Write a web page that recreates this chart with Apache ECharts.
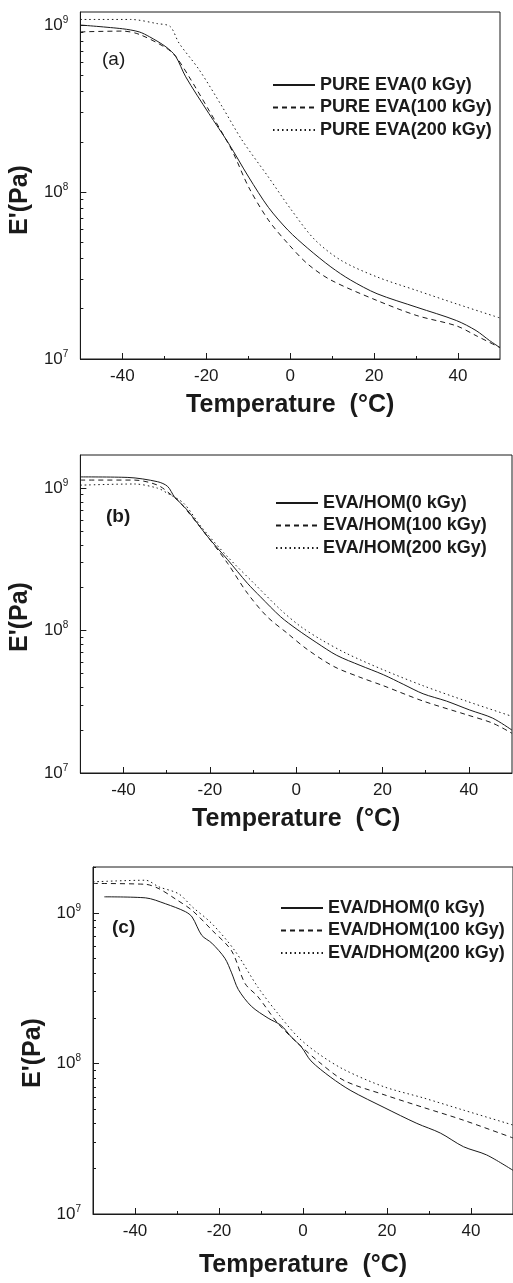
<!DOCTYPE html>
<html>
<head>
<meta charset="utf-8">
<script src="https://cdn.jsdelivr.net/npm/echarts@6/dist/echarts.min.js"></script>
<style>
  html, body { margin: 0; padding: 0; background: #fff; }
  #chart { width: 513px; height: 1283px; }
</style>
</head>
<body>
<div id="chart"></div>
<script>
// storage modulus E' (Pa) vs temperature (°C)

// (a) pure EVA
var tA0 = [-50, -40, -36, -33.5, -29.6, -27.3, -24.9, -19.4, -14.7, -9.9, -5.2, -0.5, 4.2, 9.7, 14.4, 20.7, 30.2, 39.6, 44.3, 47.5, 50];
var eA0 = [1.0e9, 0.95e9, 0.91e9, 0.85e9, 0.74e9, 0.65e9, 0.49e9, 2.96e8, 1.96e8, 1.23e8, 8.1e7, 5.9e7, 4.6e7, 3.56e7, 2.97e7, 2.46e7, 2.04e7, 1.70e7, 1.48e7, 1.29e7, 1.17e7];
var tA100 = [-50, -40, -36, -29.6, -27.3, -24.1, -19.4, -13.9, -9.9, -5.2, -0.5, 4.2, 9.7, 20.7, 30.2, 39.6, 44.3, 50];
var eA100 = [0.91e9, 0.92e9, 0.88e9, 0.73e9, 0.65e9, 0.49e9, 3.1e8, 1.78e8, 1.07e8, 6.8e7, 4.9e7, 3.7e7, 2.97e7, 2.24e7, 1.82e7, 1.58e7, 1.38e7, 1.17e7];
var tA200 = [-50, -38, -31.7, -28.6, -26.5, -21.7, -16.2, -11.5, -5.2, 0.3, 5.8, 12.1, 20.7, 30.2, 39.6, 50];
var eA200 = [1.08e9, 1.08e9, 1.02e9, 0.98e9, 0.78e9, 0.54e9, 3.24e8, 2.05e8, 1.23e8, 7.8e7, 5.2e7, 3.9e7, 3.1e7, 2.57e7, 2.14e7, 1.76e7];

// (b) EVA/HOM
var tB0 = [-50, -39, -32.1, -29.8, -28.2, -25.2, -20.6, -15.9, -11.3, -8.3, -3.6, 0.2, 4.8, 9.4, 14.8, 20.2, 24.8, 29.4, 34.8, 40.2, 45.5, 50];
var eB0 = [1.2e9, 1.19e9, 1.11e9, 1.03e9, 0.87e9, 0.70e9, 0.46e9, 3.15e8, 2.15e8, 1.73e8, 1.25e8, 1.02e8, 8.2e7, 6.7e7, 5.7e7, 4.9e7, 4.2e7, 3.6e7, 3.2e7, 2.77e7, 2.43e7, 2.0e7];
var tB100 = [-50, -37.5, -32.1, -29, -26.7, -20.6, -15.9, -11.3, -6.7, -2.1, 2.5, 8.7, 14.8, 20.2, 29.4, 39.4, 45.5, 50];
var eB100 = [1.14e9, 1.14e9, 1.05e9, 0.90e9, 0.78e9, 0.46e9, 2.97e8, 1.83e8, 1.25e8, 9.6e7, 7.4e7, 5.6e7, 4.7e7, 4.1e7, 3.2e7, 2.57e7, 2.24e7, 1.9e7];
var tB200 = [-50, -37.5, -32.1, -29.8, -26, -22.1, -15.9, -9.8, -3.6, 1.0, 5.6, 11.7, 20.2, 29.4, 39.4, 50];
var eB200 = [1.05e9, 1.07e9, 1.0e9, 0.92e9, 0.78e9, 0.54e9, 3.3e8, 2.15e8, 1.4e8, 1.07e8, 8.7e7, 6.9e7, 5.3e7, 4.1e7, 3.2e7, 2.5e7];

// (c) EVA/DHOM
var tC0 = [-47.3, -37.5, -32.7, -28, -26.4, -24.1, -21.7, -18.6, -17, -15.4, -12.3, -8.3, -5.2, -2.8, -0.4, 1.9, 6.6, 11.4, 19.3, 27.1, 32.7, 38.2, 43.7, 50];
var eC0 = [1.28e9, 1.26e9, 1.15e9, 1.02e9, 0.94e9, 0.71e9, 0.63e9, 0.50e9, 0.40e9, 0.31e9, 2.4e8, 2.0e8, 1.79e8, 1.5e8, 1.29e8, 1.04e8, 8.1e7, 6.6e7, 5.1e7, 4.0e7, 3.45e7, 2.8e7, 2.47e7, 1.95e7];
var tC100 = [-50, -37.5, -34.3, -30.4, -26.4, -21.7, -17, -13.8, -10.7, -6, -1.2, 3.5, 9.8, 19.3, 28.7, 38.2, 50];
var eC100 = [1.57e9, 1.55e9, 1.45e9, 1.24e9, 1.04e9, 0.77e9, 0.56e9, 3.4e8, 2.77e8, 1.85e8, 1.36e8, 1.04e8, 7.7e7, 6.2e7, 5.1e7, 4.2e7, 3.2e7];
var tC200 = [-50, -37.5, -34.3, -29.6, -26.4, -21.7, -16.2, -10.7, -6, -1.2, 3.5, 9.8, 19.3, 28.7, 38.2, 50];
var eC200 = [1.61e9, 1.65e9, 1.49e9, 1.34e9, 1.10e9, 0.85e9, 0.56e9, 3.2e8, 2.15e8, 1.5e8, 1.17e8, 9.1e7, 7.0e7, 5.9e7, 4.9e7, 3.9e7];

var namesA = ['PURE EVA(0 kGy)', 'PURE EVA(100 kGy)', 'PURE EVA(200 kGy)'];
var namesB = ['EVA/HOM(0 kGy)', 'EVA/HOM(100 kGy)', 'EVA/HOM(200 kGy)'];
var namesC = ['EVA/DHOM(0 kGy)', 'EVA/DHOM(100 kGy)', 'EVA/DHOM(200 kGy)'];
var panelTags = ['(a)', '(b)', '(c)'];

var xMajor = [-40, -20, 0, 20, 40];
var xMinor = [-30, -10, 10, 30];
var yMajor = [1e7, 1e8, 1e9];
var yMinor = [2e7, 3e7, 4e7, 5e7, 6e7, 7e7, 8e7, 9e7, 2e8, 3e8, 4e8, 5e8, 6e8, 7e8, 8e8, 9e8, 2e9];

function zip(t, e) {
  return t.map(function (v, i) { return [v, e[i]]; });
}

var font = '"Liberation Sans", Arial, sans-serif';
var ink = '#1a1a1a';
var dashTypes = ['solid', [5, 4], [1.5, 3]];

// layout of each panel (pixels)
var panels = [
  { grid: { left: 77, right: 13, top: 12, height: 347 }, yMax: 1.197e9, legend: { left: 272, top: 76 }, tag: { left: 102, top: 50, weight: 'normal' },
    nameShift: 29, xGap: 34, names: namesA, data: [zip(tA0, eA0), zip(tA100, eA100), zip(tA200, eA200)] },
  { grid: { left: 78, right: 1, top: 455, height: 318 }, yMax: 1.71e9, legend: { left: 275, top: 494 }, tag: { left: 106, top: 507, weight: 'bold' },
    nameShift: 6, xGap: 34, names: namesB, data: [zip(tB0, eB0), zip(tB100, eB100), zip(tB200, eB200)] },
  { grid: { left: 93, right: -3, top: 867, height: 347 }, yMax: 2.02e9, legend: { left: 280, top: 899 }, tag: { left: 112, top: 918, weight: 'bold' },
    nameShift: 25, xGap: 39, names: namesC, data: [zip(tC0, eC0), zip(tC100, eC100), zip(tC200, eC200)] }
];

var option = {
  backgroundColor: '#ffffff',
  animation: false,
  textStyle: { fontFamily: font, color: ink },
  title: [],
  legend: [],
  grid: [],
  xAxis: [],
  yAxis: [],
  series: []
};

panels.forEach(function (p, i) {
  option.grid.push(Object.assign({ show: true, borderColor: ink, borderWidth: 1, backgroundColor: 'transparent' }, p.grid));

  option.title.push({
    text: panelTags[i], left: p.tag.left, top: p.tag.top, padding: 0,
    textStyle: { fontSize: 19, fontWeight: p.tag.weight, color: ink, fontFamily: font }
  });

  // legend: line only, hide the symbol dot
  option.legend.push({
    orient: 'vertical', left: p.legend.left, top: p.legend.top, padding: 0,
    itemWidth: 42, itemHeight: 12, itemGap: 4.5, selectedMode: false,
    itemStyle: { color: 'rgba(0,0,0,0)', borderWidth: 0, opacity: 0 },
    data: p.names,
    textStyle: { fontSize: 18, fontWeight: 'bold', color: ink, fontFamily: font }
  });

  // main x axis
  option.xAxis.push({
    type: 'value', gridIndex: i, position: 'bottom', min: -50, max: 50,
    axisLine: { show: true, onZero: false, lineStyle: { color: ink, width: 1 } },
    axisTick: { inside: true, length: 6, customValues: xMajor, lineStyle: { color: ink } },
    axisLabel: { customValues: xMajor, fontSize: 17, margin: 9, color: ink, fontFamily: font },
    splitLine: { show: false },
    name: 'Temperature  (°C)', nameLocation: 'middle', nameGap: p.xGap,
    nameTextStyle: { fontSize: 25, fontWeight: 'bold', color: ink, fontFamily: font }
  });
  // minor x ticks
  option.xAxis.push({
    type: 'value', gridIndex: i, position: 'bottom', min: -50, max: 50,
    axisLine: { show: false, onZero: false },
    axisTick: { inside: true, length: 3, customValues: xMinor, lineStyle: { color: ink } },
    axisLabel: { show: false },
    splitLine: { show: false }
  });

  // main y axis (log)
  option.yAxis.push({
    type: 'log', logBase: 10, gridIndex: i, position: 'left', min: 1e7, max: p.yMax,
    axisLine: { show: true, onZero: false, lineStyle: { color: ink, width: 1 } },
    axisTick: { inside: true, length: 6, customValues: yMajor, lineStyle: { color: ink } },
    axisLabel: {
      customValues: yMajor, fontSize: 17, margin: 12, color: ink, fontFamily: font,
      formatter: function (v) { return '10{s|' + Math.round(Math.log10(v)) + '}'; },
      rich: { s: { fontSize: 10, padding: [0, 0, 10, 0], color: ink, fontFamily: font } }
    },
    splitLine: { show: false },
    name: "E'(Pa)", nameLocation: 'middle', nameGap: 43,
    nameTextStyle: { fontSize: 25, fontWeight: 'bold', color: ink, fontFamily: font, padding: [0, p.nameShift, 0, 0] }
  });
  // minor y ticks
  option.yAxis.push({
    type: 'log', logBase: 10, gridIndex: i, position: 'left', min: 1e7, max: p.yMax,
    axisLine: { show: false, onZero: false },
    axisTick: { inside: true, length: 3, customValues: yMinor, lineStyle: { color: ink } },
    axisLabel: { show: false },
    splitLine: { show: false }
  });

  p.data.forEach(function (d, k) {
    option.series.push({
      name: p.names[k], type: 'line', xAxisIndex: 2 * i, yAxisIndex: 2 * i,
      data: d, symbol: 'none', showSymbol: false, smooth: 0.3,
      lineStyle: { color: ink, width: 1, type: dashTypes[k] },
      itemStyle: { color: ink },
      clip: true
    });
  });
});

var myChart = echarts.init(document.getElementById('chart'));
myChart.setOption(option);
</script>
</body>
</html>
